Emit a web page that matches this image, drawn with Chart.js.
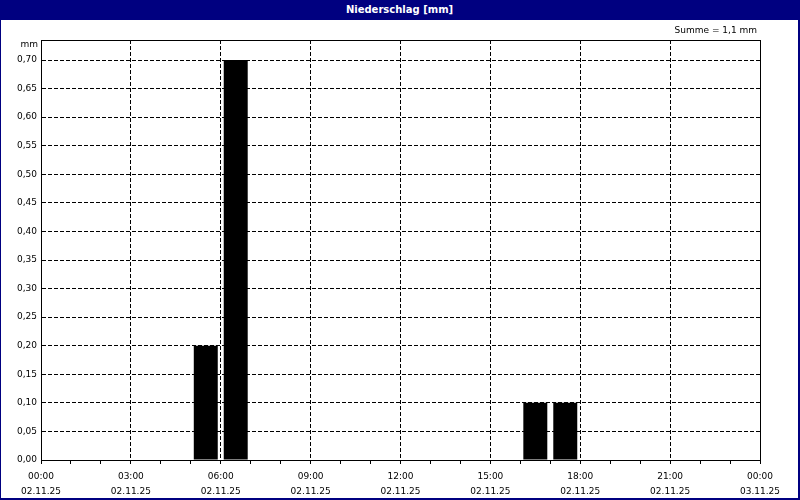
<!DOCTYPE html>
<html>
<head>
<meta charset="utf-8">
<script src="https://cdn.jsdelivr.net/npm/chart.js@4.4.1/dist/chart.umd.min.js"></script>
<style>
  html, body { margin: 0; padding: 0; background: #fff; }
  #frame {
    position: relative; width: 800px; height: 500px; box-sizing: border-box;
    border-left: 1px solid #000080; border-right: 2px solid #000080; border-bottom: 2px solid #000080;
    background: #fff; overflow: hidden;
  }
  #titlebar {
    position: absolute; left: 0; top: 0; width: 100%; height: 20px; background: #000080;
    color: #fff; font: bold 10px "DejaVu Sans", sans-serif; text-align: center; line-height: 19px;
  }
  #box { position: absolute; left: 0; top: 20px; width: 797px; height: 478px; }
</style>
</head>
<body>
<div id="frame">
  <div id="titlebar">Niederschlag [mm]</div>
  <div id="box"><canvas id="rainChart"></canvas></div>
</div>
<script>
const hours = [0, 1, 2, 3, 4, 5, 6, 7, 8, 9, 10, 11, 12, 13, 14, 15, 16, 17, 18, 19, 20, 21, 22, 23];
const precip = [0, 0, 0, 0, 0, 0.2, 0.7, 0, 0, 0, 0, 0, 0, 0, 0, 0, 0.1, 0.1, 0, 0, 0, 0, 0, 0];
const timeLabels = ['00:00', '03:00', '06:00', '09:00', '12:00', '15:00', '18:00', '21:00', '00:00'];
const dateLabels = ['02.11.25', '02.11.25', '02.11.25', '02.11.25', '02.11.25', '02.11.25', '02.11.25', '02.11.25', '03.11.25'];
const unitLabel = 'mm';
const sumLabel = 'Summe = 1,1 mm';

const FONT = '"DejaVu Sans", sans-serif';

// frame round the plot + the two loose texts
const extras = {
  id: 'extras',
  afterDraw(chart) {
    const { ctx, chartArea: a } = chart;
    ctx.save();
    ctx.strokeStyle = '#000';
    ctx.lineWidth = 1;
    ctx.strokeRect(Math.round(a.left) + 0.5, Math.round(a.top) + 0.5, Math.round(a.right - a.left), Math.round(a.bottom - a.top));
    ctx.fillStyle = '#000';
    ctx.font = '9px ' + FONT;
    ctx.textBaseline = 'middle';
    ctx.textAlign = 'right';
    ctx.fillText(unitLabel, a.left - 3, a.top + 5);
    ctx.fillText(sumLabel, a.right - 3, a.top - 9);
    ctx.restore();
  }
};

new Chart(document.getElementById('rainChart'), {
  type: 'bar',
  data: {
    datasets: [{
      data: hours.map((h, i) => ({ x: h + 0.5, y: precip[i] })),
      backgroundColor: '#000',
      borderWidth: 0,
      barPercentage: 1,
      categoryPercentage: 0.8,
    }]
  },
  options: {
    responsive: true,
    maintainAspectRatio: false,
    animation: false,
    layout: { padding: { top: 20, right: 38, left: 0, bottom: 0 } },
    plugins: { legend: { display: false }, tooltip: { enabled: false } },
    scales: {
      x: {
        type: 'linear',
        min: 0,
        max: 24,
        offset: false,
        afterFit: s => { s.height = 38; },
        afterBuildTicks: s => { s.ticks = hours.concat([24]).map(v => ({ value: v })); },
        border: { display: true, color: '#000', dash: [4, 2] },
        grid: {
          offset: false,
          color: c => (c.tick && c.tick.value % 3 === 0) ? '#000' : 'rgba(0,0,0,0)',
          tickColor: '#000',
          tickLength: 4,
          lineWidth: 1,
        },
        ticks: {
          autoSkip: false,
          maxRotation: 0,
          padding: 5,
          color: '#000',
          font: { family: FONT, size: 9, lineHeight: 1.65 },
          callback: v => v % 3 === 0 ? [timeLabels[v / 3], dateLabels[v / 3]] : '',
        }
      },
      y: {
        min: 0,
        max: 0.735,
        afterFit: s => { s.width = 40; },
        border: { display: true, color: '#000', dash: [4, 2] },
        grid: { color: '#000', drawTicks: false, lineWidth: 1 },
        ticks: {
          stepSize: 0.05,
          includeBounds: false,
          padding: 4,
          color: '#000',
          font: { family: FONT, size: 9 },
          callback: v => v.toFixed(2).replace('.', ','),
        }
      }
    }
  },
  plugins: [extras]
});
</script>
</body>
</html>
